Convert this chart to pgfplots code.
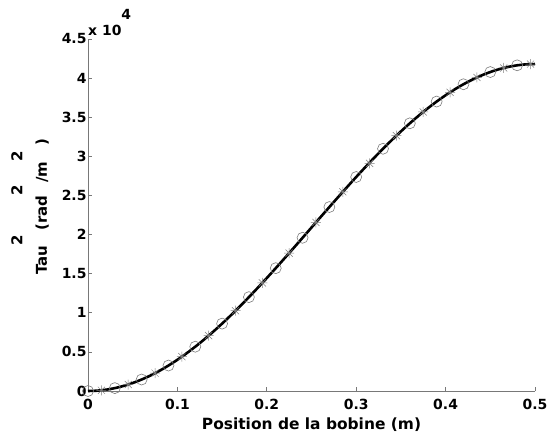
\documentclass[border=0pt]{standalone}
\usepackage{pgfplots}
\pgfplotsset{compat=1.18}
\usepackage{fontspec}
\setmainfont{DejaVu Sans}
\usetikzlibrary{plotmarks}
\definecolor{axgray}{RGB}{120,120,120}
\definecolor{mkgray}{RGB}{125,125,125}
\pgfdeclareplotmark{mstar}{%
  \pgfpathmoveto{\pgfqpoint{-\pgfplotmarksize}{0pt}}%
  \pgfpathlineto{\pgfqpoint{\pgfplotmarksize}{0pt}}%
  \pgfpathmoveto{\pgfqpoint{0pt}{-\pgfplotmarksize}}%
  \pgfpathlineto{\pgfqpoint{0pt}{\pgfplotmarksize}}%
  \pgfpathmoveto{\pgfqpoint{-0.707\pgfplotmarksize}{-0.707\pgfplotmarksize}}%
  \pgfpathlineto{\pgfqpoint{0.707\pgfplotmarksize}{0.707\pgfplotmarksize}}%
  \pgfpathmoveto{\pgfqpoint{-0.707\pgfplotmarksize}{0.707\pgfplotmarksize}}%
  \pgfpathlineto{\pgfqpoint{0.707\pgfplotmarksize}{-0.707\pgfplotmarksize}}%
  \pgfusepathqstroke}
\begin{document}
\begin{tikzpicture}
\useasboundingbox (-88bp,-48bp) rectangle (460bp,391bp);
\begin{axis}[
  at={(0,0)}, anchor=south west,
  scale only axis, width=447bp, height=352bp,
  xmin=0, xmax=0.5, ymin=0, ymax=4.5,
  axis lines*=left,
  axis line style={axgray, line width=0.6bp},
  xtick={0,0.1,0.2,0.3,0.4,0.5},
  ytick={0,0.5,1,1.5,2,2.5,3,3.5,4,4.5},
  xticklabels={0,0.1,0.2,0.3,0.4,0.5},
  yticklabels={0,0.5,1,1.5,2,2.5,3,3.5,4,4.5},
  tick align=inside,
  major tick length=4bp,
  tick style={axgray, line width=0.6bp},
  ticklabel style={font=\fontsize{14}{16}\selectfont\bfseries},
  xticklabel style={yshift=-5bp},
  yticklabel style={xshift=2bp},
  xlabel={Position de la bobine (m)},
  xlabel style={font=\fontsize{15.5}{17}\selectfont\bfseries,
    at={(axis description cs:0.5,0)}, anchor=north, inner sep=0pt, yshift=-27bp},
  ylabel={Tau\raisebox{3ex}{2}\ (rad\raisebox{3ex}{2}\,/m\raisebox{3ex}{2}\ )},
  ylabel style={font=\fontsize{15}{17}\selectfont\bfseries, yshift=6bp, xshift=8bp},
  clip=false,
]
\addplot[black, line width=2.6bp, smooth] coordinates {
(0,0) (0.01,0.00412) (0.02,0.01649) (0.03,0.03701) (0.04,0.06567)
(0.05,0.10229) (0.06,0.14676) (0.07,0.19891) (0.08,0.25851) (0.09,0.32535)
(0.10,0.39915) (0.11,0.47963) (0.12,0.56645) (0.13,0.65929) (0.14,0.75779)
(0.15,0.86152) (0.16,0.97012) (0.17,1.08314) (0.18,1.20012) (0.19,1.32063)
(0.20,1.44415) (0.21,1.57024) (0.22,1.69838) (0.23,1.82806) (0.24,1.95877)
(0.25,2.09) (0.26,2.22123) (0.27,2.35194) (0.28,2.48162) (0.29,2.60976)
(0.30,2.73585) (0.31,2.85937) (0.32,2.97988) (0.33,3.09686) (0.34,3.20988)
(0.35,3.31848) (0.36,3.42221) (0.37,3.52071) (0.38,3.61355) (0.39,3.70037)
(0.40,3.78085) (0.41,3.85465) (0.42,3.92149) (0.43,3.98109) (0.44,4.03324)
(0.45,4.07771) (0.46,4.11433) (0.47,4.14299) (0.48,4.16351) (0.49,4.17588)
(0.50,4.18)
};
\addplot[only marks, mark=o, mark size=5.5bp, mkgray, mark options={line width=0.6bp}] coordinates {
(0,0) (0.03,0.03701) (0.06,0.14676) (0.09,0.32535) (0.12,0.56645)
(0.15,0.86152) (0.18,1.20012) (0.21,1.57024) (0.24,1.95877) (0.27,2.35194)
(0.30,2.73585) (0.33,3.09686) (0.36,3.42221) (0.39,3.70037) (0.42,3.92149)
(0.45,4.07771) (0.48,4.16351)
};
\addplot[only marks, mark=mstar, mark size=5bp, mkgray, mark options={line width=0.5bp}] coordinates {
(0.015,0.00928) (0.045,0.08299) (0.075,0.22779) (0.105,0.43857) (0.135,0.70786)
(0.165,1.02611) (0.195,1.38203) (0.225,1.76306) (0.255,2.15565) (0.285,2.54591)
(0.315,2.91004) (0.345,3.26475) (0.375,3.56786) (0.405,3.81860) (0.435,4.00810)
(0.465,4.12967) (0.495,4.17898)
};
\node[anchor=south west, inner sep=0pt, font=\fontsize{14}{16}\selectfont\bfseries] at (rel axis cs:0,1) [xshift=0bp, yshift=3bp] {x 10\raisebox{2.1ex}{4}};
\end{axis}
\end{tikzpicture}
\end{document}
